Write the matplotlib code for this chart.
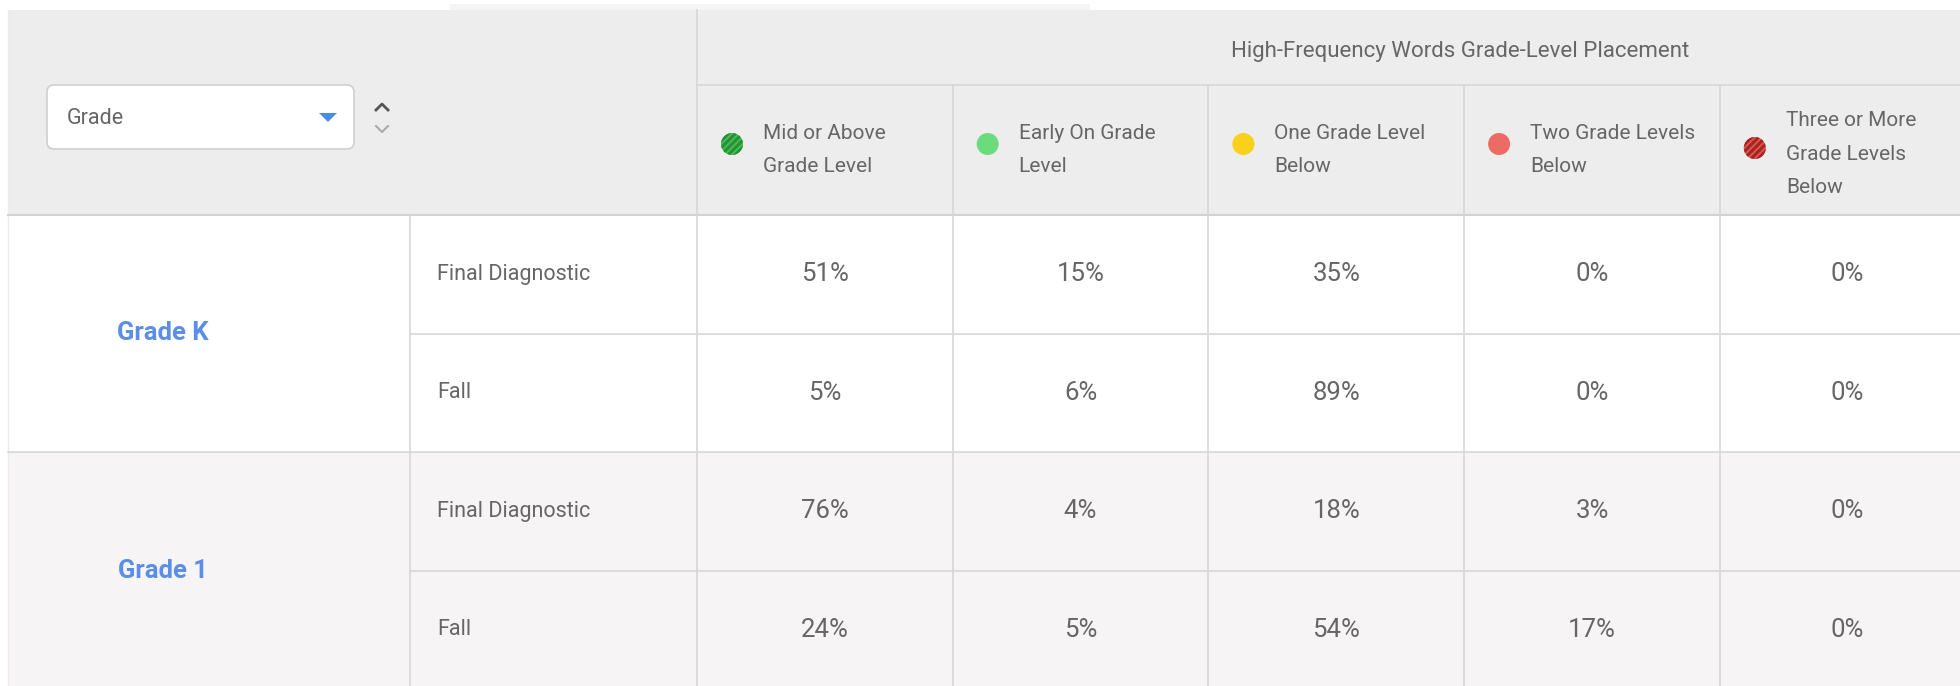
import matplotlib
matplotlib.use("Agg")
import matplotlib.pyplot as plt
from matplotlib.patches import Rectangle, Circle, FancyBboxPatch, Polygon
from matplotlib.lines import Line2D

plt.rcParams['font.family'] = ['Roboto', 'DejaVu Sans']

# ---------------- data ----------------
title = "High-Frequency Words Grade-Level Placement"
grades = ["Grade K", "Grade 1"]
periods = ["Final Diagnostic", "Fall"]
categories = ["Mid or Above\nGrade Level", "Early On Grade\nLevel", "One Grade Level\nBelow",
              "Two Grade Levels\nBelow", "Three or More\nGrade Levels\nBelow"]
cat_colors = ["#45bf52", "#6bdc7e", "#f9d01c", "#ee6b63", "#e4564b"]
cat_stripes = ["#27913a", None, None, None, "#a32626"]
grade_k_final = [51, 15, 35, 0, 0]
grade_k_fall = [5, 6, 89, 0, 0]
grade_1_final = [76, 4, 18, 3, 0]
grade_1_fall = [24, 5, 54, 17, 0]
values = [[grade_k_final, grade_k_fall], [grade_1_final, grade_1_fall]]
dropdown_label = "Grade"

# ---------------- layout ----------------
W, H = 1960, 686
fig = plt.figure(figsize=(W / 100, H / 100), dpi=100)
ax = fig.add_axes([0, 0, 1, 1])
ax.set_xlim(0, W)
ax.set_ylim(H, 0)
ax.axis('off')

L = 8
top = 10
title_bot = 85
head_bot = 215
x_period = 410
x_data = 697
col_w = 255.7
row_h = 118.5
line_c = "#d7d7d7"
head_bg = "#ededed"
txt_c = "#666666"
blue = "#5b8ee8"
ncol = len(categories)
right = W + 20

# faint strip at top
ax.add_patch(Rectangle((450, 4), 640, 8, facecolor="#f5f5f5", edgecolor="none"))
# header background
ax.add_patch(Rectangle((L, top), right - L, head_bot - top, facecolor=head_bg, edgecolor="none"))

# body rows
row_y = [head_bot + i * row_h for i in range(5)]
for gi, g in enumerate(grades):
    y0 = row_y[gi * 2]
    bg = "#ffffff" if gi == 0 else "#f6f4f4"
    ax.add_patch(Rectangle((L, y0), right - L, 2 * row_h, facecolor=bg, edgecolor="none"))
    ax.text(163, y0 + row_h, g, ha='center', va='center', fontsize=18.5, fontweight='bold', color=blue)
    for pi, p in enumerate(periods):
        yc = y0 + pi * row_h + row_h / 2
        ax.text(437, yc, p, ha='left', va='center', fontsize=15.5, color=txt_c)
        for ci in range(ncol):
            xc = x_data + ci * col_w + col_w / 2
            ax.text(xc, yc, f"{values[gi][pi][ci]}%", ha='center', va='center', fontsize=18.5, color=txt_c)

# grid lines
ax.add_line(Line2D([L, L], [top, H], color="#ececec", lw=1))
ax.add_line(Line2D([x_data, right], [title_bot, title_bot], color=line_c, lw=1.2))
ax.add_line(Line2D([L, right], [head_bot, head_bot], color="#d2d2d2", lw=1.5))
for i in range(1, 5):
    y = row_y[i]
    x0 = L if i % 2 == 0 else x_period
    ax.add_line(Line2D([x0, right], [y, y], color=line_c, lw=1.2))
ax.add_line(Line2D([x_data, x_data], [top, H], color=line_c, lw=1.2))
for ci in range(1, ncol + 1):
    x = x_data + ci * col_w
    ax.add_line(Line2D([x, x], [title_bot, H], color=line_c, lw=1.2))
ax.add_line(Line2D([x_period, x_period], [head_bot, H], color=line_c, lw=1.2))

# title
ax.text(1460, 51, title, ha='center', va='center', fontsize=16, color=txt_c)

# column headers
for ci, cat in enumerate(categories):
    x0 = x_data + ci * col_w
    nlines = cat.count("\n") + 1
    ic_y = 144 if nlines == 2 else 148
    ty = 150 if nlines == 2 else 154
    circ = Circle((x0 + 35, ic_y), 11, facecolor=cat_colors[ci], edgecolor="none")
    ax.add_patch(circ)
    if cat_stripes[ci]:
        for k in range(-3, 4):
            d = k * 7
            ln = Line2D([x0 + 35 - 14 + d, x0 + 35 + 14 + d], [ic_y + 14, ic_y - 14],
                        color=cat_stripes[ci], lw=2.2)
            ax.add_line(ln)
            ln.set_clip_path(circ)
    ax.text(x0 + 66, ty, cat, ha='left', va='center', fontsize=15, color=txt_c, linespacing=1.95)

# dropdown
ax.add_patch(FancyBboxPatch((47, 85), 307, 64, boxstyle="round,pad=0,rounding_size=7",
                            facecolor="white", edgecolor="#cfcfcf", lw=1.2))
ax.text(67, 118, dropdown_label, ha='left', va='center', fontsize=15.5, color=txt_c)
ax.add_patch(Polygon([[319, 113], [337, 113], [328, 122]], closed=True, facecolor="#4a8be6", edgecolor="none"))
ax.add_line(Line2D([376, 382, 388], [110, 104, 110], color="#555555", lw=2))
ax.add_line(Line2D([376, 382, 388], [126, 132, 126], color="#aaaaaa", lw=1.5))

fig.savefig("out.png", dpi=100, facecolor="white")
